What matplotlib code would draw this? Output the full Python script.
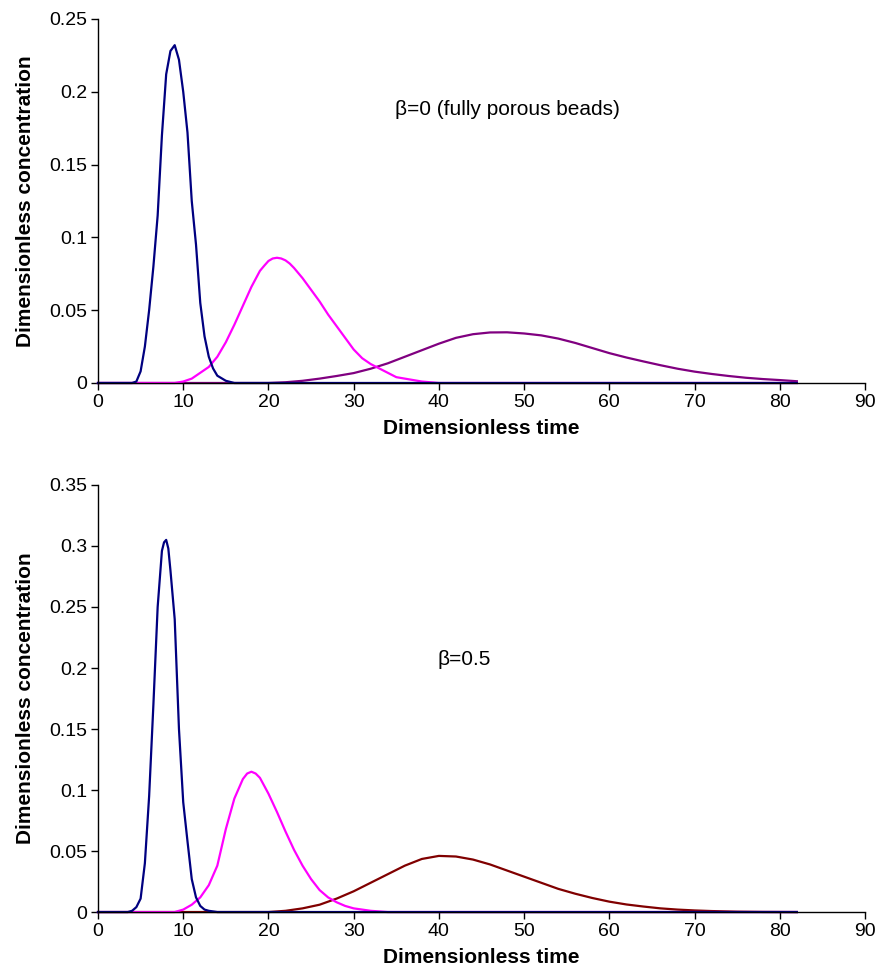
import matplotlib
matplotlib.use("Agg")
import matplotlib.pyplot as plt

plt.rcParams['font.family'] = ['Liberation Sans', 'DejaVu Sans']

# ---- data ----
# beta = 0 (top panel)
top_blue_x = [0, 4, 4.5, 5, 5.5, 6, 6.5, 7, 7.5, 8, 8.5, 9, 9.5, 10, 10.5, 11,
              11.5, 12, 12.5, 13, 13.5, 14, 15, 16, 82]
top_blue_y = [0, 0, 0.001, 0.008, 0.025, 0.05, 0.08, 0.115, 0.17, 0.212, 0.228,
              0.232, 0.222, 0.2, 0.172, 0.125, 0.095, 0.055, 0.032, 0.018, 0.01,
              0.005, 0.0015, 0, 0]

top_mag_x = [0, 9, 10, 11, 12, 13, 14, 15, 16, 17, 18, 19, 19.5, 20, 20.5, 21,
             21.5, 22, 22.5, 23, 24, 25, 26, 27, 28, 29, 30, 31, 32, 33, 34, 35,
             36, 38, 40, 82]
top_mag_y = [0, 0, 0.001, 0.003, 0.007, 0.011, 0.018, 0.028, 0.04, 0.053, 0.066,
             0.077, 0.0805, 0.0838, 0.0855, 0.086, 0.0855, 0.0842, 0.082, 0.079,
             0.072, 0.064, 0.056, 0.047, 0.039, 0.031, 0.023, 0.017, 0.013, 0.01,
             0.007, 0.004, 0.003, 0.001, 0, 0]

top_pur_x = [0, 20, 22, 24, 26, 28, 30, 32, 34, 36, 38, 40, 42, 44, 46, 48, 50,
             52, 54, 56, 58, 60, 62, 64, 66, 68, 70, 72, 74, 76, 78, 80, 82]
top_pur_y = [0, 0, 0.0005, 0.0015, 0.003, 0.0048, 0.0068, 0.0098, 0.0135, 0.018,
             0.0225, 0.027, 0.031, 0.0335, 0.0347, 0.0348, 0.034, 0.0327, 0.0305,
             0.0275, 0.024, 0.0205, 0.0175, 0.0148, 0.0122, 0.0098, 0.0078,
             0.0062, 0.0048, 0.0036, 0.0027, 0.002, 0.0012]

# beta = 0.5 (bottom panel)
bot_blue_x = [0, 3.5, 4, 4.5, 5, 5.5, 6, 6.5, 7, 7.5, 7.75, 8, 8.25, 8.5, 9, 9.5,
              10, 10.5, 11, 11.5, 12, 12.5, 13, 14, 82]
bot_blue_y = [0, 0, 0.001, 0.004, 0.011, 0.04, 0.095, 0.17, 0.25, 0.296, 0.303,
              0.305, 0.298, 0.28, 0.24, 0.15, 0.09, 0.058, 0.027, 0.012, 0.005,
              0.002, 0.001, 0, 0]

bot_mag_x = [0, 9, 10, 11, 12, 13, 14, 15, 16, 17, 17.5, 18, 18.5, 19, 20, 21,
             22, 23, 24, 25, 26, 27, 28, 29, 30, 31, 32, 34, 82]
bot_mag_y = [0, 0, 0.002, 0.006, 0.012, 0.022, 0.038, 0.068, 0.093, 0.109, 0.1135,
             0.115, 0.1135, 0.11, 0.097, 0.082, 0.066, 0.051, 0.038, 0.027, 0.018,
             0.012, 0.008, 0.005, 0.003, 0.002, 0.001, 0, 0]

bot_red_x = [0, 20, 22, 24, 26, 28, 30, 32, 34, 36, 38, 40, 42, 44, 46, 48, 50,
             52, 54, 56, 58, 60, 62, 64, 66, 68, 70, 72, 75, 78, 82]
bot_red_y = [0, 0, 0.001, 0.003, 0.006, 0.011, 0.017, 0.024, 0.031, 0.038, 0.0435,
             0.046, 0.0455, 0.043, 0.039, 0.034, 0.029, 0.024, 0.019, 0.015,
             0.0115, 0.0085, 0.0062, 0.0045, 0.003, 0.002, 0.0013, 0.0008,
             0.0003, 0.0001, 0]

top_yticks = [0, 0.05, 0.1, 0.15, 0.2, 0.25]
top_ylabels = ['0', '0.05', '0.1', '0.15', '0.2', '0.25']
bot_yticks = [0, 0.05, 0.1, 0.15, 0.2, 0.25, 0.3, 0.35]
bot_ylabels = ['0', '0.05', '0.1', '0.15', '0.2', '0.25', '0.3', '0.35']
xticks = list(range(0, 91, 10))

NAVY = '#000080'
MAGENTA = '#FF00FF'
PURPLE = '#800080'
DARKRED = '#800000'

fig = plt.figure(figsize=(8.75, 9.77), dpi=100)
ax1 = fig.add_axes([0.112, 0.608, 0.8766, 0.3726])
ax2 = fig.add_axes([0.112, 0.0665, 0.8766, 0.4371])


def style_axis(ax, yticks, ylabels, ymax):
    ax.set_xlim(0, 90)
    ax.set_ylim(0, ymax)
    ax.set_xticks(xticks)
    ax.set_xticklabels([str(t) for t in xticks])
    ax.set_yticks(yticks)
    ax.set_yticklabels(ylabels)
    for s in ['top', 'right']:
        ax.spines[s].set_visible(False)
    for s in ['left', 'bottom']:
        ax.spines[s].set_linewidth(1.0)
    ax.tick_params(direction='out', length=5, width=1, labelsize=14, pad=3)
    ax.set_xlabel('Dimensionless time', fontsize=15, fontweight='bold', labelpad=6)
    ax.set_ylabel('Dimensionless concentration', fontsize=15, fontweight='bold',
                  labelpad=10)


ax1.plot(top_pur_x, top_pur_y, color=PURPLE, lw=1.6, clip_on=False)
ax1.plot(top_mag_x, top_mag_y, color=MAGENTA, lw=1.6, clip_on=False)
ax1.plot(top_blue_x, top_blue_y, color=NAVY, lw=1.6, clip_on=False)
style_axis(ax1, top_yticks, top_ylabels, 0.25)
ax1.text(34.8, 0.1875, 'β=0 (fully porous beads)', fontsize=15, va='center')

ax2.plot(bot_red_x, bot_red_y, color=DARKRED, lw=1.6, clip_on=False)
ax2.plot(bot_mag_x, bot_mag_y, color=MAGENTA, lw=1.6, clip_on=False)
ax2.plot(bot_blue_x, bot_blue_y, color=NAVY, lw=1.6, clip_on=False)
style_axis(ax2, bot_yticks, bot_ylabels, 0.35)
ax2.text(39.8, 0.207, 'β=0.5', fontsize=15, va='center')

fig.savefig('out.png', dpi=100)
